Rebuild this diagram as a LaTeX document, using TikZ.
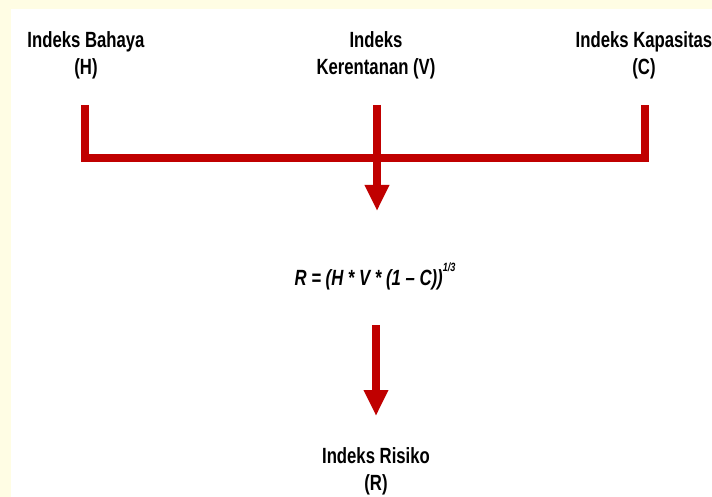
\documentclass[tikz,border=0pt]{standalone}
\usepackage{fontspec}
\setmainfont{Liberation Sans}[FakeStretch=0.76]
\usetikzlibrary{arrows.meta}
\definecolor{flowred}{HTML}{C00000}
\definecolor{paleyellow}{HTML}{FFFDE4}
\tikzset{
  lbl/.style={font=\fontsize{22}{27}\selectfont\bfseries, align=center, inner sep=0pt, anchor=base},
  formula/.style={font=\fontsize{22}{28}\selectfont\bfseries\itshape, inner sep=0pt, anchor=base},
  redline/.style={draw=flowred, line width=8pt, line join=miter, line cap=butt},
  redarrow/.style={redline, -{Triangle[width=23pt,length=26pt]}}
}
\begin{document}
\begin{tikzpicture}[x=1pt,y=-1pt]
\useasboundingbox (0,0) rectangle (712,497);
\fill[paleyellow] (0,0) rectangle (712,497);
\fill[white] (11,9) rectangle (712,497);

\node[lbl] (H) at (86,75) {Indeks Bahaya\\(H)};
\node[lbl] (V) at (376,75) {Indeks\\Kerentanan (V)};
\node[lbl] (C) at (644,75) {Indeks Kapasitas\\(C)};
\node[formula] (F) at (375,285) {R = (H * V * (1 – C))\raisebox{14pt}{\fontsize{12}{12}\selectfont 1/3}};
\node[lbl] (R) at (376,490) {Indeks Risiko\\(R)};

\coordinate (hTop) at (84.5,105);
\coordinate (hJoin) at (84.5,158);
\coordinate (cJoin) at (644.5,158);
\coordinate (cTop) at (644.5,105);
\coordinate (vTop) at (377,105);
\coordinate (vTip) at (377,211);
\coordinate (fBot) at (376,325);
\coordinate (rTip) at (376,416);

\draw[redline] (hTop) -- (hJoin) -- (cJoin) -- (cTop);
\draw[redarrow] (vTop) -- (vTip);
\draw[redarrow] (fBot) -- (rTip);
\end{tikzpicture}
\end{document}
